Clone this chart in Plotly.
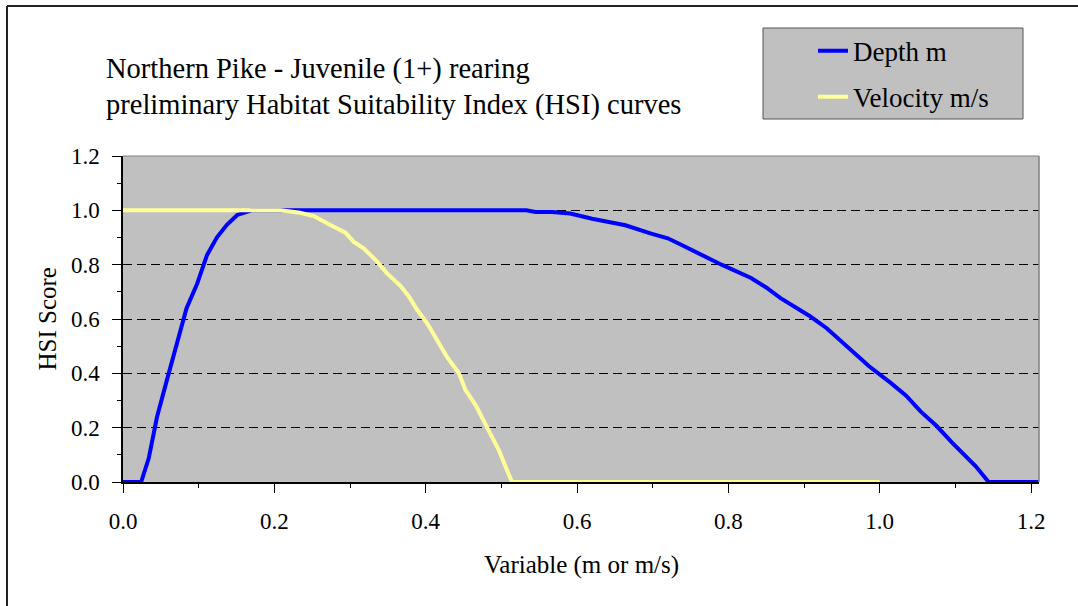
import plotly.graph_objects as go

# ---- data ----
depth_x = [0.0, 0.024, 0.034, 0.045, 0.058, 0.0735, 0.084, 0.098, 0.111, 0.124, 0.137, 0.151,
           0.164, 0.17, 0.533, 0.545, 0.567, 0.591, 0.620, 0.664, 0.698, 0.720, 0.737, 0.764,
           0.791, 0.830, 0.850, 0.869, 0.908, 0.930, 0.947, 0.970, 0.986, 1.015, 1.035, 1.054,
           1.075, 1.096, 1.110, 1.127, 1.144, 1.21]
depth_y = [0.0, 0.0, 0.087, 0.24, 0.375, 0.535, 0.64, 0.73, 0.835, 0.90, 0.946, 0.983,
           0.997, 1.0, 1.0, 0.994, 0.994, 0.988, 0.969, 0.945, 0.914, 0.897, 0.874, 0.837,
           0.80, 0.751, 0.716, 0.677, 0.610, 0.566, 0.524, 0.470, 0.426, 0.364, 0.318, 0.260,
           0.207, 0.144, 0.106, 0.058, 0.0, 0.0]

vel_x = [0.0, 0.208, 0.234, 0.252, 0.274, 0.294, 0.305, 0.318, 0.336, 0.349, 0.367, 0.378,
         0.389, 0.402, 0.415, 0.428, 0.444, 0.4525, 0.466, 0.483, 0.4965, 0.514, 1.0]
vel_y = [1.0, 1.0, 0.991, 0.979, 0.946, 0.918, 0.884, 0.860, 0.811, 0.768, 0.721, 0.682,
         0.633, 0.584, 0.523, 0.461, 0.40, 0.339, 0.283, 0.191, 0.118, 0.0, 0.0]

series_names = ["Depth m", "Velocity m/s"]
series_colors = ["#0000FF", "#FFFF99"]

x_ticks = [0.0, 0.2, 0.4, 0.6, 0.8, 1.0, 1.2]
x_minor = [0.1, 0.3, 0.5, 0.7, 0.9, 1.1]
y_ticks = [0.0, 0.2, 0.4, 0.6, 0.8, 1.0, 1.2]
y_minor = [0.1, 0.3, 0.5, 0.7, 0.9, 1.1]

title_lines = ["Northern Pike - Juvenile (1+) rearing",
               "preliminary Habitat Suitability Index (HSI) curves"]
x_title = "Variable (m or m/s)"
y_title = "HSI Score"

FONT = "Liberation Serif, Times New Roman, serif"

# ---- layout geometry (pixels) ----
W, H = 1078, 606
L, R, T, B = 123, 1039, 156, 482
PW, PH = R - L, B - T


def px(xp):
    return (xp - L) / PW


def py(yp):
    return (B - yp) / PH


fig = go.Figure()
fig.add_trace(go.Scatter(x=depth_x, y=depth_y, mode="lines", name=series_names[0],
                         legendgroup="d", line=dict(color=series_colors[0], width=4)))
fig.add_trace(go.Scatter(x=vel_x, y=vel_y, mode="lines", name=series_names[1],
                         legendgroup="v", line=dict(color=series_colors[1], width=4)))

x_max = 1.2 * PW / (1031 - L)

fig.update_layout(
    width=W, height=H, autosize=False,
    margin=dict(l=L, r=W - R, t=T, b=H - B, pad=0),
    paper_bgcolor="white", plot_bgcolor="#C0C0C0",
    font=dict(family=FONT, color="black"),
    showlegend=True,
    legend=dict(x=px(813), y=py(26.6), xanchor="left", yanchor="top",
                bgcolor="rgba(0,0,0,0)", borderwidth=0,
                font=dict(family=FONT, size=27, color="black"),
                traceorder="grouped", tracegroupgap=8),
    xaxis=dict(range=[0, x_max], tickmode="array", tickvals=x_ticks,
               ticktext=[f"{v:.1f}" for v in x_ticks],
               ticks="outside", ticklen=9, tickwidth=1, tickcolor="black",
               showline=True, linecolor="black", linewidth=1.5,
               showgrid=False, zeroline=False,
               tickfont=dict(family=FONT, size=23, color="black"),
               ticklabelstandoff=9,
               minor=dict(tickmode="array", tickvals=x_minor, ticks="outside",
                          ticklen=4, tickwidth=1, tickcolor="black", showgrid=False)),
    yaxis=dict(range=[0, 1.2], tickmode="array", tickvals=y_ticks,
               ticktext=[f"{v:.1f}" for v in y_ticks],
               ticks="outside", ticklen=9, tickwidth=1, tickcolor="black",
               showline=True, linecolor="black", linewidth=1.5,
               showgrid=True, gridcolor="black", gridwidth=1, griddash="9px,5px",
               zeroline=False,
               tickfont=dict(family=FONT, size=23, color="black"),
               ticklabelstandoff=8,
               minor=dict(tickmode="array", tickvals=y_minor, ticks="outside",
                          ticklen=4, tickwidth=1, tickcolor="black", showgrid=False)),
)

shapes = [
    # outer chart border (top and left visible)
    dict(type="line", xref="paper", yref="paper", x0=px(7), x1=px(1100), y0=py(6), y1=py(6),
         line=dict(color="#222222", width=2)),
    dict(type="line", xref="paper", yref="paper", x0=px(7), x1=px(7), y0=py(6), y1=py(640),
         line=dict(color="#222222", width=2)),
    # plot area border top and right
    dict(type="line", xref="paper", yref="paper", x0=0, x1=1, y0=1, y1=1,
         line=dict(color="#808080", width=1)),
    dict(type="line", xref="paper", yref="paper", x0=1, x1=1, y0=0, y1=1,
         line=dict(color="#808080", width=1.5)),
    # legend box
    dict(type="rect", xref="paper", yref="paper", x0=px(763), x1=px(1023), y0=py(119), y1=py(28),
         fillcolor="#C0C0C0", line=dict(color="#555555", width=1), layer="above"),
]
fig.update_layout(shapes=shapes)

annotations = [
    dict(text=title_lines[0], xref="paper", yref="paper", x=px(104), y=py(69),
         xanchor="left", yanchor="middle", showarrow=False,
         font=dict(family=FONT, size=28.5, color="black")),
    dict(text=title_lines[1], xref="paper", yref="paper", x=px(104), y=py(105.5),
         xanchor="left", yanchor="middle", showarrow=False,
         font=dict(family=FONT, size=28.5, color="black")),
    dict(text=x_title, xref="paper", yref="paper", x=0.5, y=py(565),
         xanchor="center", yanchor="middle", showarrow=False,
         font=dict(family=FONT, size=25, color="black")),
    dict(text=y_title, xref="paper", yref="paper", x=px(47), y=py(319.5),
         xanchor="center", yanchor="middle", showarrow=False, textangle=-90,
         font=dict(family=FONT, size=25, color="black")),
]
fig.update_layout(annotations=annotations)

fig.write_html("out.html")
